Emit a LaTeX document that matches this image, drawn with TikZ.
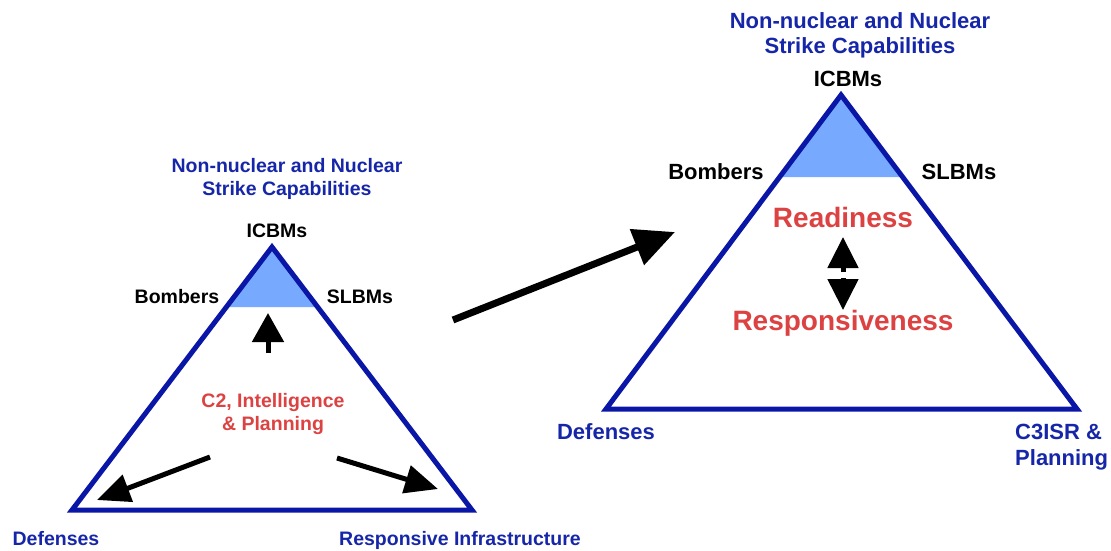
\documentclass[tikz,border=0pt]{standalone}
\usepackage{fontspec}
\setmainfont{Liberation Sans}
\usetikzlibrary{arrows.meta}
\definecolor{navy}{HTML}{0A16A6}
\definecolor{capblue}{HTML}{1626A8}
\definecolor{redtxt}{HTML}{DC4242}
\definecolor{skyfill}{HTML}{77AAFF}

\begin{document}
\begin{tikzpicture}[
    x=1pt, y=-1pt,
    tri/.style={draw=navy, line width=5pt, line join=miter},
    capfill/.style={fill=skyfill},
    sm/.style={font=\bfseries\fontsize{19.5}{22.7}\selectfont, inner sep=0, align=center},
    lg/.style={font=\bfseries\fontsize{22}{25.5}\selectfont, inner sep=0, align=center},
    big/.style={font=\bfseries\fontsize{28}{32}\selectfont, inner sep=0, text=redtxt},
    ar/.style={-{Triangle[length=29pt,width=31pt]}, line width=5pt},
    wide/.style={-{Triangle[length=41pt,width=37pt]}, line width=7pt},
]
  \useasboundingbox (0,0) rectangle (1111,550);
  % left triangle
  \coordinate (la) at (272,247); \coordinate (lb) at (72,510); \coordinate (lc) at (472,510);
  \fill[capfill] (272,250) -- (226,307) -- (318,307) -- cycle;
  \draw[tri] (la) -- (lb) -- (lc) -- cycle;
  \node[sm, text=capblue, anchor=north] (ltitle) at (287,158) {Non-nuclear and Nuclear\\Strike Capabilities};
  \node[sm, anchor=base] (licbm) at (277,237) {ICBMs};
  \node[sm, anchor=base] (lbomb) at (177,303) {Bombers};
  \node[sm, anchor=base] (lslbm) at (360,303) {SLBMs};
  \node[sm, text=redtxt, anchor=north] (lc2) at (273,393) {C2, Intelligence\\\& Planning};
  \node[sm, text=capblue, anchor=base] (ldef) at (56,545) {Defenses};
  \node[sm, text=capblue, anchor=base] (lresp) at (460,545) {Responsive Infrastructure};
  \coordinate (lup0) at (268,353); \coordinate (lup1) at (268,313);
  \coordinate (ldl0) at (210,457); \coordinate (ldl1) at (97,500);
  \coordinate (ldr0) at (337,458); \coordinate (ldr1) at (438,489);
  \draw[ar] (lup0) -- (lup1);
  \draw[ar, -{Triangle[length=33pt,width=28pt]}] (ldl0) -- (ldl1);
  \draw[ar, -{Triangle[length=33pt,width=28pt]}] (ldr0) -- (ldr1);
  % big arrow across
  \coordinate (mv0) at (453,320); \coordinate (mv1) at (675,232);
  \draw[wide] (mv0) -- (mv1);
  % right triangle
  \coordinate (ra) at (841,95); \coordinate (rb) at (606,409); \coordinate (rc) at (1077,409);
  \fill[capfill] (841,99) -- (780,177) -- (902,177) -- cycle;
  \draw[tri] (ra) -- (rb) -- (rc) -- cycle;
  \node[lg, text=capblue, anchor=north] (rtitle) at (860,12) {Non-nuclear and Nuclear\\Strike Capabilities};
  \node[lg, anchor=base] (ricbm) at (848,86) {ICBMs};
  \node[lg, anchor=base] (rbomb) at (716,179) {Bombers};
  \node[lg, anchor=base] (rslbm) at (959,179) {SLBMs};
  \node[big, anchor=base] (rready) at (843,227) {Readiness};
  \node[big, anchor=base] (rresp) at (843,330) {Responsiveness};
  \node[lg, text=capblue, anchor=base] (rdef) at (606,439) {Defenses};
  \node[lg, text=capblue, anchor=north west, align=left] (rc3) at (1015,424) {C3ISR \&\\Planning};
  \coordinate (rup0) at (843,272); \coordinate (rup1) at (843,237);
  \coordinate (rdn0) at (843,278); \coordinate (rdn1) at (843,310);
  \draw[ar, -{Triangle[length=31pt,width=30pt]}] (rup0) -- (rup1);
  \draw[ar, -{Triangle[length=31pt,width=30pt]}] (rdn0) -- (rdn1);
\end{tikzpicture}
\end{document}
